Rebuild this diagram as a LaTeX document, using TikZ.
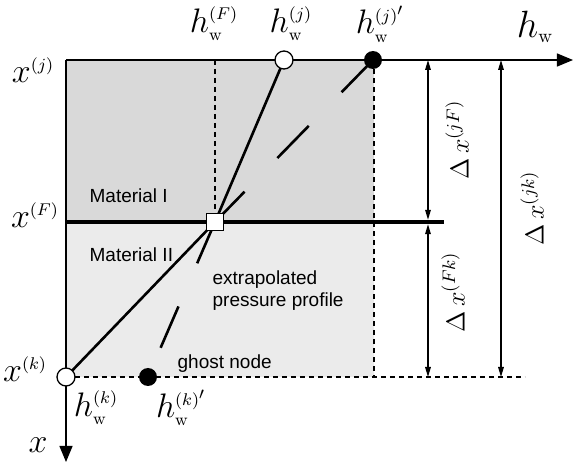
\RequirePackage{fix-cm}
\documentclass[tikz,border=0pt]{standalone}
\usepackage{amsmath,amssymb}
\usepackage{fontspec}
\setsansfont{Liberation Sans}
\usepackage{xcolor}
\usepackage{tikz}
\usetikzlibrary{arrows.meta,calc,positioning}
\definecolor{matone}{HTML}{D9D9D9}
\definecolor{mattwo}{HTML}{EBEBEB}
\newcommand{\hwl}[1]{h_{\scriptscriptstyle\mathrm{w}}^{\scriptscriptstyle#1}}
\newcommand{\xl}[1]{x^{\scriptscriptstyle(#1)}}
\newcommand{\dxl}[1]{\Delta\,x^{(#1)}}

\begin{document}
\begin{tikzpicture}[x=0.5pt,y=-0.5pt,line width=0.65pt,
    lab/.style={inner sep=0pt,font=\fontsize{17}{20}\selectfont},
    dimlab/.style={inner sep=0pt,rotate=90,font=\fontsize{13}{15}\selectfont},
    txt/.style={inner sep=0pt,anchor=west,align=left,font=\sffamily\fontsize{9.5}{11}\selectfont},
    opennode/.style={circle,draw,fill=white,minimum size=9pt,inner sep=0pt},
    ghostnode/.style={circle,fill=black,minimum size=9pt,inner sep=0pt},
    facenode/.style={rectangle,draw,fill=white,minimum size=8.5pt,inner sep=0pt},
    fine/.style={line width=0.6pt,dash pattern=on 2.5pt off 2pt},
    coarse/.style={line width=1.3pt,dash pattern=on 22.5pt off 23.5pt},
    dim/.style={{Triangle[length=5pt,width=2.8pt]}-{Triangle[length=5pt,width=2.8pt]}},
    axis/.style={-{Triangle[length=8pt,width=6.5pt]}}]
  \useasboundingbox (0,0) rectangle (575,466);
  \coordinate (O) at (66,60);
  \coordinate (hend) at (573,60);
  \coordinate (xend) at (66,462);
  \coordinate (Pj) at (284,60);
  \coordinate (Pjp) at (373,60);
  \coordinate (PF) at (215,222);
  \coordinate (PFtop) at (215,60);
  \coordinate (Pk) at (66,377);
  \coordinate (Pkp) at (148,377);
  \coordinate (FL) at (66,222);
  \coordinate (FR) at (444,222);
  \coordinate (TR) at (374,60);
  \coordinate (BR) at (374,377);
  \coordinate (BE) at (525,377);
  \coordinate (dAt) at (428,60);
  \coordinate (dAm) at (428,222);
  \coordinate (dAb) at (428,377);
  \coordinate (dBt) at (501,60);
  \coordinate (dBb) at (501,377);
  \fill[matone] (O) rectangle (FL -| TR);
  \fill[mattwo] (FL) rectangle (BR);
  \draw[fine] (TR) -- (BR);
  \draw[fine] (Pk) -- (BE);
  \draw[fine] (PFtop) -- (PF);
  \draw[axis] (O) -- (hend);
  \draw[axis] (O) -- (xend);
  \draw[line width=2.2pt] (FL) -- (FR);
  \draw[dim] (dAt) -- ([yshift=1.1pt]dAm);
  \draw[dim] ([yshift=-1.1pt]dAm) -- (dAb);
  \draw[dim] (dBt) -- (dBb);
  \draw[line width=1.3pt] (Pk) -- (PF) -- (Pj);
  \draw[coarse] (Pjp) -- (PF);
  \draw[coarse] (PF) -- (Pkp);
  \node[opennode] (nj) at (Pj) {};
  \node[ghostnode] (njp) at (Pjp) {};
  \node[opennode] (nk) at (Pk) {};
  \node[ghostnode] (nkp) at (Pkp) {};
  \node[facenode] (nF) at (PF) {};
  \node[lab] (lxj) at (33,70) {$\xl{j}$};
  \node[lab] (lxF) at (35,215) {$\xl{F}$};
  \node[lab] (lxk) at (25,369) {$\xl{k}$};
  \node[lab] (lhF) at (214,24) {$\hwl{(F)}$};
  \node[lab] (lhj) at (291,24) {$\hwl{(j)}$};
  \node[lab] (lhjp) at (380,24) {$\hwl{(j)'}$};
  \node[lab] (lhk) at (96,408) {$\hwl{(k)}$};
  \node[lab] (lhkp) at (181,408) {$\hwl{(k)'}$};
  \node[lab,font=\fontsize{19}{22}\selectfont] (lhw) at (535,27) {$h_{\scriptscriptstyle\mathrm{w}}$};
  \node[lab] (lx) at (38,445) {$x$};
  \node[dimlab] (ljF) at (457,140) {$\dxl{jF}$};
  \node[dimlab] (lFk) at (453,292) {$\dxl{Fk}$};
  \node[dimlab] (ljk) at (532,208) {$\dxl{jk}$};
  \node[txt] (tm1) at (89,196) {Material I};
  \node[txt] (tm2) at (89,255) {Material II};
  \node[txt] (tex) at (212,291) {extrapolated\\pressure profile};
  \node[txt] (tgh) at (177,364) {ghost node};
\end{tikzpicture}
\end{document}
